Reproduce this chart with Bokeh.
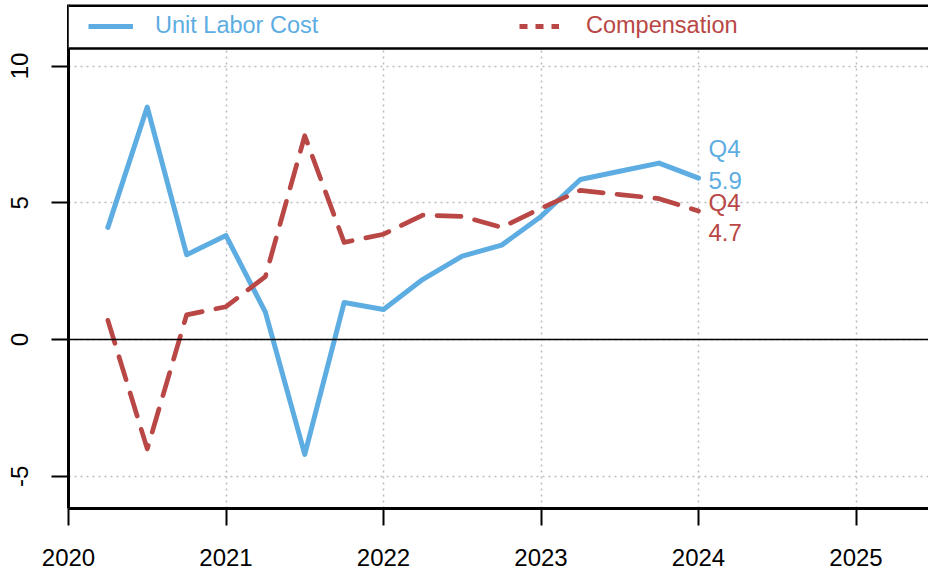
from bokeh.plotting import figure
from bokeh.models import FixedTicker, Span, BoxAnnotation, Legend, LegendItem
from bokeh.core.properties import value
from bokeh.embed import file_html
from bokeh.resources import INLINE

# ---- data ----
quarters = ["2020Q1", "2020Q2", "2020Q3", "2020Q4",
            "2021Q1", "2021Q2", "2021Q3", "2021Q4",
            "2022Q1", "2022Q2", "2022Q3", "2022Q4",
            "2023Q1", "2023Q2", "2023Q3", "2023Q4"]
unit_labor_cost = [4.1, 8.5, 3.1, 3.8, 1.0, -4.2, 1.35, 1.1,
                   2.2, 3.05, 3.45, 4.5, 5.85, 6.15, 6.45, 5.9]
compensation = [0.7, -4.0, 0.9, 1.2, 2.3, 7.45, 3.55, 3.85,
                4.55, 4.5, 4.1, 4.8, 5.45, 5.3, 5.15, 4.7]
x_ticks = [2020, 2021, 2022, 2023, 2024, 2025]
y_ticks = [-5, 0, 5, 10]
y_tick_labels = {-5: "-5", 0: "0", 5: "5", 10: "10"}
series_names = ["Unit Labor Cost", "Compensation"]

FONT = "Liberation Sans"
BLUE = "#5DADE2"
RED = "#B94745"
NAN = float("nan")

x = [int(q[:4]) + int(q[-1]) / 4 for q in quarters]

W, H = 928, 573
LEFT, BOTTOM, TOP = 68, 65, 4
frame_w = W - LEFT
frame_h = H - BOTTOM - TOP
px_per_year = 157.5
px_per_unit = 27.35
x0 = 2020.0
x1 = x0 + frame_w / px_per_year
y0 = -169 / px_per_unit
y1 = y0 + frame_h / px_per_unit

p = figure(width=W, height=H, x_range=(x0, x1), y_range=(y0, y1),
           output_backend="svg", toolbar_location=None,
           min_border_left=LEFT, min_border_right=0, min_border_top=TOP,
           min_border_bottom=BOTTOM, outline_line_color=None,
           background_fill_color="white", border_fill_color="white")

# axes
for ax, ticks in ((p.xaxis, x_ticks), (p.yaxis, y_ticks)):
    ax.ticker = FixedTicker(ticks=ticks)
    ax.major_label_text_font = FONT
    ax.major_label_text_font_size = "24px"
    ax.major_label_text_color = "black"
    ax.major_tick_out = 17
    ax.major_tick_in = 0
    ax.minor_tick_out = 0
    ax.minor_tick_in = 0
    ax.major_tick_line_width = 2
    ax.major_tick_line_color = "black"
    ax.axis_line_width = 3
    ax.axis_line_color = "black"
p.xaxis.major_label_standoff = 23
p.yaxis.major_label_standoff = 24
p.yaxis.major_label_orientation = "vertical"
p.yaxis.major_label_overrides = y_tick_labels

for g in (p.xgrid, p.ygrid):
    g.grid_line_color = "#BBBBBB"
    g.grid_line_dash = "2 4"
    g.grid_line_width = 1.5

p.add_layout(Span(location=0, dimension="width", line_color="black", line_width=1.5))

# legend strip at the top
legend_bottom = y1 - 44 / px_per_unit
p.add_layout(BoxAnnotation(bottom=legend_bottom, fill_color="white", fill_alpha=1.0,
                           line_color=None))
p.add_layout(Span(location=legend_bottom, dimension="width", line_color="black", line_width=2.5))
p.add_layout(Span(location=y1 - 1 / px_per_unit, dimension="width",
                  line_color="black", line_width=3))

# series
p.line(x, unit_labor_cost, line_color=BLUE, line_width=5, line_cap="round", line_join="round")
p.line(x, compensation, line_color=RED, line_width=4.7, line_dash="24 14",
       line_cap="round", line_join="round")

# legend samples
lg1 = p.line(x=[NAN], y=[NAN], line_color=BLUE, line_width=5)
lg2 = p.line(x=[NAN], y=[NAN], line_color=RED, line_width=5, line_dash="8 8")

leg1 = Legend(items=[LegendItem(label=series_names[0], renderers=[lg1])],
              location=(20, 469), glyph_width=45, label_standoff=22,
              label_text_color=BLUE, label_text_font=FONT, label_text_font_size="23.5px",
              border_line_color=None, background_fill_alpha=0, padding=0, margin=0)
leg2 = Legend(items=[LegendItem(label=series_names[1], renderers=[lg2])],
              location=(451, 469), glyph_width=40, label_standoff=27,
              label_text_color=RED, label_text_font=FONT, label_text_font_size="23.5px",
              border_line_color=None, background_fill_alpha=0, padding=0, margin=0)
p.add_layout(leg1)
p.add_layout(leg2)

# end labels
last_q = quarters[-1][-2:]
p.text(x=[x[-1]], y=[unit_labor_cost[-1]], text=[last_q], text_color=BLUE,
       text_font=value(FONT), text_font_size="24px", text_baseline="middle",
       x_offset=10, y_offset=-30)
p.text(x=[x[-1]], y=[unit_labor_cost[-1]], text=[f"{unit_labor_cost[-1]:.1f}"], text_color=BLUE,
       text_font=value(FONT), text_font_size="24px", text_baseline="middle",
       x_offset=10, y_offset=2)
p.text(x=[x[-1]], y=[compensation[-1]], text=[last_q], text_color=RED,
       text_font=value(FONT), text_font_size="24px", text_baseline="middle",
       x_offset=10, y_offset=-8)
p.text(x=[x[-1]], y=[compensation[-1]], text=[f"{compensation[-1]:.1f}"], text_color=RED,
       text_font=value(FONT), text_font_size="24px", text_baseline="middle",
       x_offset=10, y_offset=22)

open("out.html", "w").write(file_html(p, INLINE))
